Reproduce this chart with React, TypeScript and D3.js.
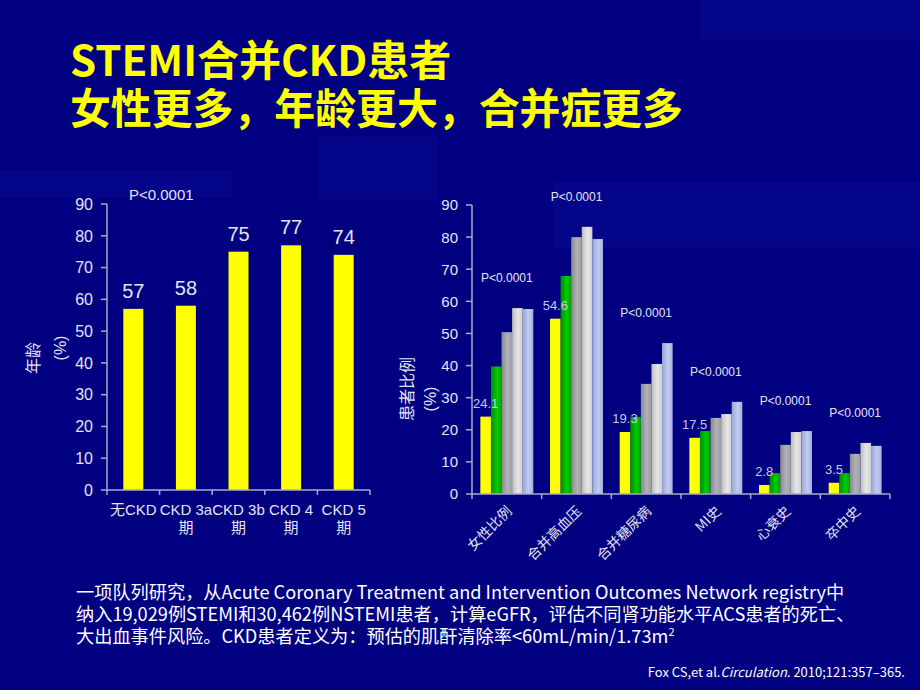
import React from "react";
import * as d3 from "d3";

// ---------- data ----------
const ageCategories = ["无CKD", "CKD 3a|期", "CKD 3b|期", "CKD 4|期", "CKD 5|期"];
const ageValues = [57, 58, 75, 77, 74];
const ageTicks = [0, 10, 20, 30, 40, 50, 60, 70, 80, 90];
const ageP = "P<0.0001";

const comorbidCategories = ["女性比例", "合并高血压", "合并糖尿病", "MI史", "心衰史", "卒中史"];
const seriesKeys = ["noCkd", "ckd3a", "ckd3b", "ckd4", "ckd5"];
const noCkd = [24.1, 54.6, 19.3, 17.5, 2.8, 3.5];
const ckd3a = [39.7, 67.9, 24.0, 19.6, 6.5, 6.5];
const ckd3b = [50.4, 80.0, 34.3, 23.7, 15.3, 12.5];
const ckd4 = [57.9, 83.2, 40.5, 24.9, 19.3, 15.9];
const ckd5 = [57.6, 79.4, 47.0, 28.7, 19.6, 15.0];
const comorbidP = ["P<0.0001", "P<0.0001", "P<0.0001", "P<0.0001", "P<0.0001", "P<0.0001"];
const pctTicks = [0, 10, 20, 30, 40, 50, 60, 70, 80, 90];

const titleLines = ["STEMI合并CKD患者", "女性更多，年龄更大，合并症更多"];
const noteLines = [
  "一项队列研究，从Acute Coronary Treatment and Intervention Outcomes Network registry中",
  "纳入19,029例STEMI和30,462例NSTEMI患者，计算eGFR，评估不同肾功能水平ACS患者的死亡、",
  "大出血事件风险。CKD患者定义为：预估的肌酐清除率<60mL/min/1.73m",
];

// ---------- styles ----------
const BG = "#000080";
const AXIS = "#a9a9cc";
const TXT = "#e4e4f0";
const SANS = "'Liberation Sans', Arial, 'Noto Sans CJK SC', sans-serif";
const CJK = "'Noto Sans CJK SC', 'Liberation Sans', sans-serif";
const seriesFill: Record<string, string> = {
  noCkd: "#ffff00",
  ckd3a: "url(#gGreen)",
  ckd3b: "url(#gGray)",
  ckd4: "url(#gLight)",
  ckd5: "url(#gBlue)",
};

export default function App() {
  const W = 920, H = 690;

  // left chart
  const lx = d3.scaleBand<number>().domain(ageValues.map((_, i) => i)).range([107, 370]).paddingInner(0.62).paddingOuter(0.31);
  const ly = d3.scaleLinear().domain([0, 90]).range([490, 204]);
  const lStep = lx.step();

  // right chart
  const rx = d3.scaleBand<number>().domain(comorbidCategories.map((_, i) => i)).range([472, 890]).paddingInner(0.24).paddingOuter(0.12);
  const rInner = d3.scaleBand<string>().domain(seriesKeys).range([0, rx.bandwidth()]).padding(0);
  const ry = d3.scaleLinear().domain([0, 90]).range([494, 205]);
  const rStep = rx.step();
  const seriesData: Record<string, number[]> = { noCkd, ckd3a, ckd3b, ckd4, ckd5 };

  const grad = (id: string, a: string, b: string, c: string) => (
    <linearGradient id={id} x1="0" x2="1" y1="0" y2="0">
      <stop offset="0" stopColor={a} />
      <stop offset="0.55" stopColor={b} />
      <stop offset="1" stopColor={c} />
    </linearGradient>
  );

  return (
    <svg width={W} height={H} style={{ position: "absolute", left: 0, top: 0, display: "block" }}>
      <defs>
        {grad("gGreen", "#008a00", "#00cc00", "#00a400")}
        {grad("gGray", "#88888f", "#b2b2b8", "#9c9ca4")}
        {grad("gLight", "#bcbcbc", "#e6e6e6", "#cfcfcf")}
        {grad("gBlue", "#98a6d8", "#c2cbf0", "#a6b2e2")}
      </defs>
      <rect x={0} y={0} width={W} height={H} fill={BG} />
      {/* faint decorative blocks */}
      <g fill="#05058a">
        <rect x={318} y={137} width={120} height={63} />
        <rect x={553} y={182} width={367} height={66} />
        <rect x={0} y={170} width={232} height={28} />
        <rect x={700} y={0} width={220} height={40} />
      </g>

      {/* title */}
      <g fill="#ffff00" fontFamily={CJK} fontWeight={700} fontSize={42}>
        <text x={70} y={76}>{titleLines[0]}</text>
        <text x={70} y={124} textLength={613} lengthAdjust="spacingAndGlyphs">{titleLines[1]}</text>
      </g>

      {/* ---------- left chart ---------- */}
      <g>
        {ageValues.map((v, i) => (
          <rect key={i} x={lx(i)!} y={ly(v)} width={lx.bandwidth()} height={ly(0) - ly(v)} fill="#ffff00" />
        ))}
        <line x1={107} x2={107} y1={ly(90)} y2={ly(0)} stroke={AXIS} strokeWidth={1.5} />
        <line x1={107} x2={370} y1={ly(0)} y2={ly(0)} stroke={AXIS} strokeWidth={1.5} />
        {ageTicks.map((t) => (
          <g key={t}>
            <line x1={101} x2={107} y1={ly(t)} y2={ly(t)} stroke={AXIS} strokeWidth={1.5} />
            <text x={93} y={ly(t)} dy="0.36em" textAnchor="end" fill={TXT} fontFamily={SANS} fontSize={16}>{t}</text>
          </g>
        ))}
        {d3.range(ageValues.length + 1).map((i) => (
          <line key={i} x1={107 + i * lStep} x2={107 + i * lStep} y1={ly(0)} y2={ly(0) + 5} stroke={AXIS} strokeWidth={1.5} />
        ))}
        {ageValues.map((v, i) => (
          <text key={i} x={lx(i)! + lx.bandwidth() / 2} y={ly(v) - 11} textAnchor="middle" fill={TXT} fontFamily={SANS} fontSize={20}>{v}</text>
        ))}
        {ageCategories.map((c, i) => {
          const parts = c.split("|");
          const cx = lx(i)! + lx.bandwidth() / 2;
          return (
            <text key={i} x={cx} y={515} textAnchor="middle" fill={TXT} fontFamily={SANS} fontSize={15}>
              {parts.map((p, j) => (
                <tspan key={j} x={cx} dy={j === 0 ? 0 : 17.5}>{p}</tspan>
              ))}
            </text>
          );
        })}
        <text x={129} y={200} fill={TXT} fontFamily={SANS} fontSize={15}>{ageP}</text>
        <text transform="translate(39,358) rotate(-90)" textAnchor="middle" fill={TXT} fontFamily={CJK} fontSize={16}>年龄</text>
        <text transform="translate(66,348) rotate(-90)" textAnchor="middle" fill={TXT} fontFamily={SANS} fontSize={16}>(%)</text>
      </g>

      {/* ---------- right chart ---------- */}
      <g>
        {comorbidCategories.map((_, i) => (
          <g key={i} transform={`translate(${rx(i)},0)`}>
            {seriesKeys.map((k) => {
              const v = seriesData[k][i];
              return <rect key={k} x={rInner(k)!} y={ry(v)} width={rInner.bandwidth()} height={ry(0) - ry(v)} fill={seriesFill[k]} />;
            })}
          </g>
        ))}
        <line x1={472} x2={472} y1={ry(90)} y2={ry(0)} stroke={AXIS} strokeWidth={1.5} />
        <line x1={472} x2={890} y1={ry(0)} y2={ry(0)} stroke={AXIS} strokeWidth={1.5} />
        {pctTicks.map((t) => (
          <g key={t}>
            <line x1={466} x2={472} y1={ry(t)} y2={ry(t)} stroke={AXIS} strokeWidth={1.5} />
            <text x={458} y={ry(t)} dy="0.36em" textAnchor="end" fill={TXT} fontFamily={SANS} fontSize={15}>{t}</text>
          </g>
        ))}
        {d3.range(comorbidCategories.length + 1).map((i) => (
          <line key={i} x1={472 + i * rStep} x2={472 + i * rStep} y1={ry(0)} y2={ry(0) + 5} stroke={AXIS} strokeWidth={1.5} />
        ))}
        {noCkd.map((v, i) => (
          <text key={i} x={rx(i)! + rInner("noCkd")! + rInner.bandwidth() / 2} y={ry(v) - 9} textAnchor="middle" fill="#c8c8e0" fontFamily={SANS} fontSize={13}>{v.toFixed(1)}</text>
        ))}
        {comorbidP.map((p, i) => {
          const mx = Math.max(...seriesKeys.map((k) => seriesData[k][i]));
          return (
            <text key={i} x={rx(i)! + rx.bandwidth() / 2} y={ry(mx) - 26} textAnchor="middle" fill={TXT} fontFamily={SANS} fontSize={12}>{p}</text>
          );
        })}
        {comorbidCategories.map((c, i) => {
          const ax = rx(i)! + rx.bandwidth() / 2 + 6;
          const ay = 512;
          return (
            <text key={i} transform={`translate(${ax},${ay}) rotate(-45)`} textAnchor="end" fill={TXT} fontFamily={CJK} fontSize={14}>{c}</text>
          );
        })}
        <text transform="translate(413,389) rotate(-90)" textAnchor="middle" fill={TXT} fontFamily={CJK} fontSize={16}>患者比例</text>
        <text transform="translate(436,399) rotate(-90)" textAnchor="middle" fill={TXT} fontFamily={SANS} fontSize={16}>(%)</text>
      </g>

      {/* ---------- footnote ---------- */}
      <g fill="#ffffff" fontFamily={CJK} fontSize={18.2}>
        <text x={76} y={599}>{noteLines[0]}</text>
        <text x={76} y={621}>{noteLines[1]}</text>
        <text x={76} y={643}>
          {noteLines[2]}
          <tspan fontSize={11} dy={-7}>2</tspan>
        </text>
      </g>
      <text x={905} y={677} textAnchor="end" fill="#ffffff" fontFamily={CJK} fontSize={13}>
        Fox CS,et al.<tspan fontStyle="italic">Circulation.</tspan> 2010;121:357–365.
      </text>
    </svg>
  );
}
